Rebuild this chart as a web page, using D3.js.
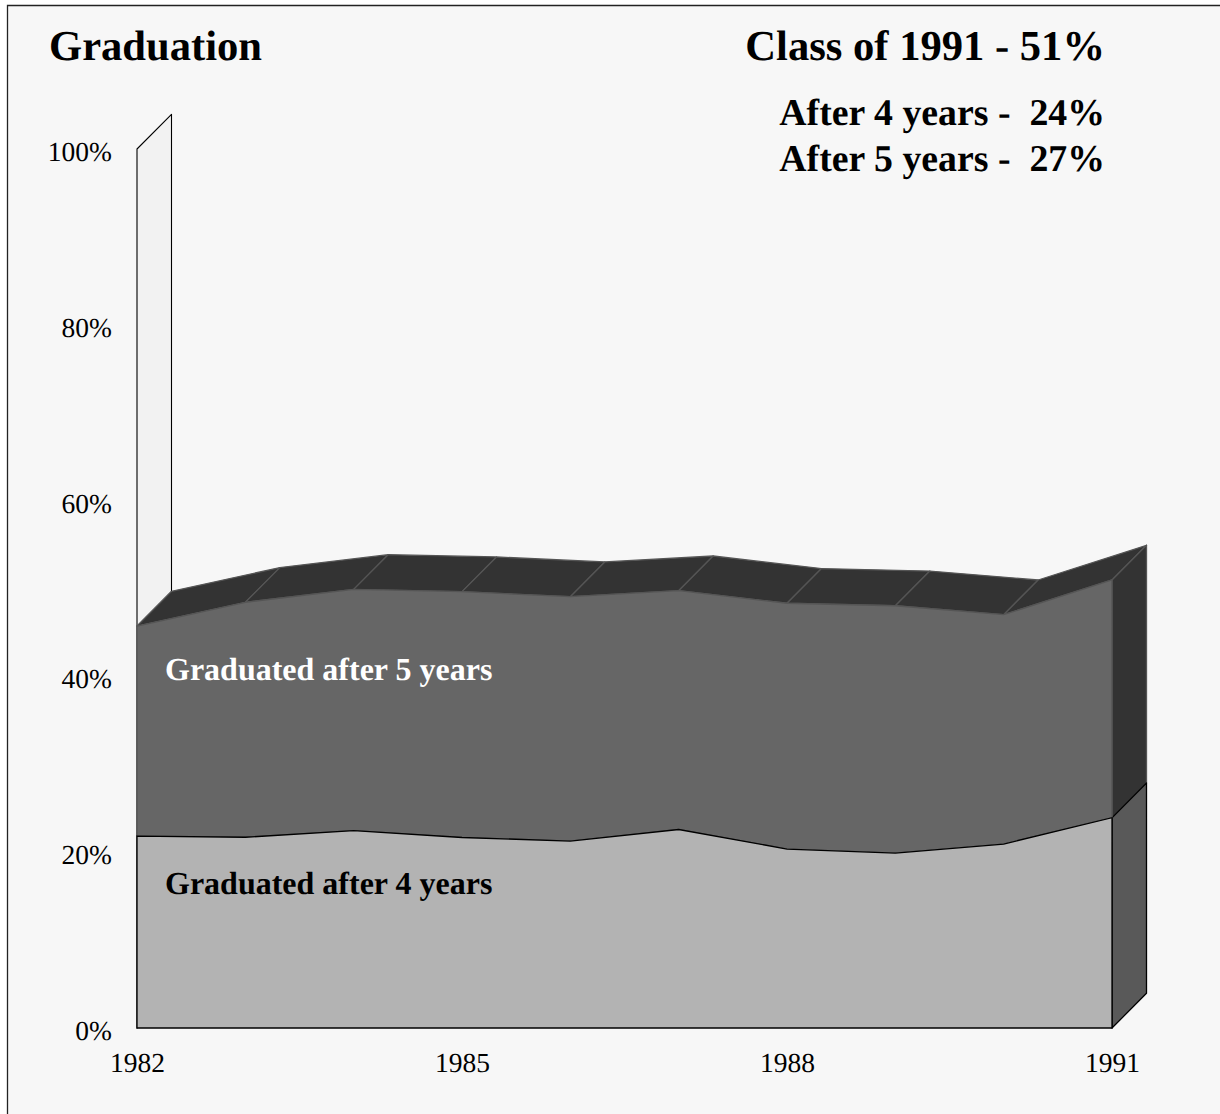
<!DOCTYPE html>
<html><head><meta charset="utf-8"><script src="https://cdn.jsdelivr.net/npm/d3@7/dist/d3.min.js"></script>
<style>html,body{margin:0;padding:0;background:#fff}svg{display:block}text{font-family:"Liberation Serif","Times New Roman",serif;fill:#000;text-rendering:geometricPrecision}</style></head><body><script>
const years=[1982,1983,1984,1985,1986,1987,1988,1989,1990,1991];
const after4=[21.84,21.7,22.45,21.67,21.27,22.58,20.36,19.9,20.93,23.92];
const total=[45.73,48.43,49.9,49.64,49.07,49.75,48.32,48.04,47.02,50.97];
const yTicks=[0,20,40,60,80,100];
const xTicks=[1982,1985,1988,1991];
const W=1220,H=1114,dx=34.5,dy=-34.7;
const x=d3.scaleLinear().domain([1982,1991]).range([137,1112]);
const y=d3.scaleLinear().domain([0,100]).range([1028,149]);
const svg=d3.select("body").append("svg").attr("width",W).attr("height",H);
svg.append("rect").attr("x",7).attr("y",5).attr("width",W-7).attr("height",H-5).attr("fill","#f7f7f7");
svg.append("path").attr("d",`M7.5,${H}V5.5H${W}`).attr("fill","none").attr("stroke","#222").attr("stroke-width",1.3);
const poly=(pts,fill,stroke,sw)=>svg.append("path").attr("d",d3.line()(pts)+"Z").attr("fill",fill).attr("stroke",stroke).attr("stroke-width",sw).attr("stroke-linejoin","round");
poly([[x(1982),y(100)],[x(1982)+dx,y(100)+dy],[x(1982)+dx,y(0)+dy],[x(1982),y(0)]],"#f2f2f2","#000",1.1);
const area=(top,bottom)=>d3.area().x((d,i)=>x(years[i])).y0((d,i)=>y(bottom[i])).y1((d,i)=>y(top[i]))(years);
const zero=years.map(()=>0);
years.slice(0,-1).forEach((yr,i)=>{const a=[x(yr),y(total[i])],b=[x(years[i+1]),y(total[i+1])];
 poly([a,b,[b[0]+dx,b[1]+dy],[a[0]+dx,a[1]+dy]],"#333333","#555555",1.3);});
const n=years.length-1,rx=x(years[n]);
poly([[rx,y(total[n])],[rx+dx,y(total[n])+dy],[rx+dx,y(after4[n])+dy],[rx,y(after4[n])]],"#333333","#555555",1.3);
poly([[rx,y(after4[n])],[rx+dx,y(after4[n])+dy],[rx+dx,y(0)+dy],[rx,y(0)]],"#595959","#000",1.3);
svg.append("path").attr("d",area(total,after4)).attr("fill","#666666").attr("stroke","#555555").attr("stroke-width",1.3);
svg.append("path").attr("d",area(after4,zero)).attr("fill","#b3b3b3").attr("stroke","#000").attr("stroke-width",1.3);
const axL=d3.axisLeft(y).tickValues(yTicks).tickSize(0).tickFormat(d=>d+"%");
const gy=svg.append("g").attr("transform","translate(137,0)").call(axL);gy.select(".domain").remove();
gy.selectAll("text").attr("x",-25).attr("font-size",27.5).attr("dy",".42em").style("font-family",'"Liberation Serif"');
const axB=d3.axisBottom(x).tickValues(xTicks).tickSize(0).tickFormat(d3.format("d"));
const gx=svg.append("g").attr("transform","translate(0,1028)").call(axB);gx.select(".domain").remove();
gx.selectAll("text").attr("y",24.5).attr("font-size",27.5).attr("dy",".71em").style("font-family",'"Liberation Serif"');
const label=(s,xx,yy,size,anchor="start",fill="#000")=>svg.append("text").attr("x",xx).attr("y",yy).attr("font-size",size).attr("font-weight","bold").attr("text-anchor",anchor).style("fill",fill).style("white-space","pre").text(s);
label("Graduation",49,59.6,42.6);
label("Class of 1991 - 51%",1105,59.6,42.6,"end");
label("After 4 years -  24%",1105,124.6,37.8,"end");
label("After 5 years -  27%",1105,170.6,37.8,"end");
label("Graduated after 5 years",165,679.6,32,"start","#fff");
label("Graduated after 4 years",165,893.6,32,"start","#000");
</script></body></html>
